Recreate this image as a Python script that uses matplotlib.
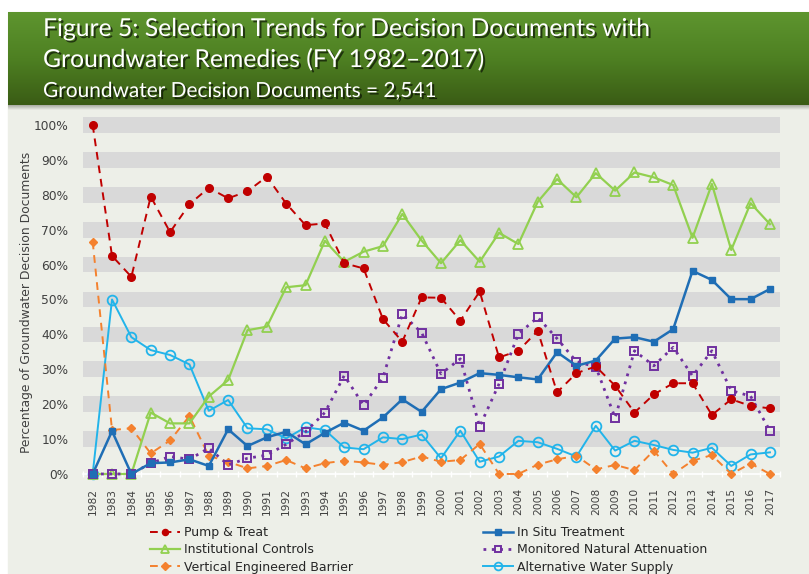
import matplotlib
matplotlib.use('Agg')
import matplotlib.pyplot as plt
import numpy as np
import matplotlib.patheffects as pe
from matplotlib.patches import Rectangle
from matplotlib.colors import LinearSegmentedColormap
from matplotlib.lines import Line2D

years = list(range(1982, 2018))

pump_treat = [100, 62.5, 56.5, 79.5, 69.3, 77.3, 82, 79, 81, 85.2,
              77.5, 71.3, 71.8, 60.4, 58.9, 44.4, 37.9, 50.6, 50.5, 43.9,
              52.3, 33.4, 35.3, 41, 23.4, 28.9, 30.8, 25.3, 17.6, 22.8,
              26, 26, 16.9, 21.4, 19.5, 18.8]
institutional = [0, 0, 0, 17.6, 14.5, 14.5, 22.2, 26.9, 41.2, 42.2,
                 53.5, 54.1, 66.8, 60.8, 63.7, 65.3, 74.5, 66.9, 60.4, 67,
                 60.8, 69.1, 65.9, 78, 84.5, 79.3, 86.2, 81.2, 86.4, 85,
                 82.8, 67.7, 83.1, 64.2, 77.6, 71.6]
vertical_barrier = [66.6, 12.6, 13.1, 5.9, 9.6, 16.6, 5.2, 3.5, 1.6, 2.3,
                    4, 1.6, 3.1, 3.8, 3.3, 2.6, 3.4, 5, 3.5, 4,
                    8.6, 0, 0, 2.7, 4.2, 5.2, 1.3, 2.6, 1.1, 6.7,
                    0, 3.8, 5.4, 0, 3, 0]
in_situ = [0, 12.3, 0, 3.1, 3.3, 4.2, 2.3, 12.8, 8, 10.5,
           12.1, 8.5, 11.8, 14.7, 12.4, 16.2, 21.4, 17.8, 24.3, 26.2,
           28.9, 28.4, 27.7, 27.1, 34.9, 31, 32.5, 38.8, 39.2, 37.9,
           41.5, 58.2, 55.6, 50.1, 50.1, 53]
mna = [0, 0, 0, 3.1, 5, 4.2, 7.4, 2.6, 4.5, 5.4,
       8.5, 12.1, 17.6, 28.2, 19.7, 27.6, 45.8, 40.5, 28.7, 33,
       13.6, 25.8, 40.1, 44.9, 38.8, 32.2, 30.7, 16.1, 35.3, 31,
       36.3, 28.1, 35.3, 23.9, 22.3, 12.4]
alt_water = [0, 50, 39.2, 35.5, 34.1, 31.4, 18.1, 21.2, 13.1, 12.8,
             10.2, 13.4, 12.6, 7.6, 7.1, 10.5, 10, 11.3, 4.5, 12.4,
             3.5, 5, 9.5, 9.1, 7.2, 5, 13.8, 6.7, 9.5, 8.3,
             6.9, 6.1, 7.5, 2.3, 5.6, 6.2]

series_names = ["Pump & Treat", "Institutional Controls", "Vertical Engineered Barrier",
                "In Situ Treatment", "Monitored Natural Attenuation", "Alternative Water Supply"]
y_ticks = list(range(0, 101, 10))
title_lines = ["Figure 5: Selection Trends for Decision Documents with",
               "Groundwater Remedies (FY 1982\u20132017)"]
subtitle = "Groundwater Decision Documents = 2,541"
y_label = "Percentage of Groundwater Decision Documents"

W, H = 809, 574
BG = '#EDEFE8'
fig = plt.figure(figsize=(W / 100, H / 100), dpi=100)
fig.patch.set_facecolor('white')
fig.patches.append(Rectangle((8 / W, 0), 1 - 8 / W, (H - 12) / H,
                             transform=fig.transFigure, color=BG, zorder=-10))

# header
hax = fig.add_axes([8 / W, 1 - 105 / H, 1 - 8 / W, 93 / H])
cmap = LinearSegmentedColormap.from_list('g', ['#5E952F', '#4E8022', '#3A5C15'])
grad = np.linspace(0, 1, 200).reshape(-1, 1)
hax.imshow(grad, aspect='auto', cmap=cmap, extent=(0, 1, 0, 1))
hax.set_axis_off()
sax = fig.add_axes([8 / W, 1 - 110 / H, 1 - 8 / W, 5 / H])
cmap2 = LinearSegmentedColormap.from_list('s', ['#9A9E94', BG])
sax.imshow(grad, aspect='auto', cmap=cmap2, extent=(0, 1, 0, 1))
sax.set_axis_off()

shadow = [pe.withSimplePatchShadow(offset=(1.5, -1.5), shadow_rgbFace='black', alpha=0.6)]
fig.text(43 / W, 1 - 36 / H, title_lines[0], family='Lato', fontsize=17.8, color='white',
         va='baseline', ha='left', path_effects=shadow)
fig.text(43 / W, 1 - 67 / H, title_lines[1], family='Lato', fontsize=17.8, color='white',
         va='baseline', ha='left', path_effects=shadow)
fig.text(43 / W, 1 - 97 / H, subtitle, family='Lato', fontsize=15, color='white',
         va='baseline', ha='left', path_effects=shadow)

# main axes
ax = fig.add_axes([83 / W, 1 - 482 / H, (780 - 83) / W, (482 - 117) / H])
ax.set_facecolor(BG)
ax.set_xlim(1981.53, 2017.52)
ax.set_ylim(-2.3, 102.3)
for v in y_ticks[1:]:
    ax.axhspan(v - 2.25, v + 2.25, color='#D9D9D9', zorder=0, lw=0)

for s in ['top', 'right', 'left']:
    ax.spines[s].set_visible(False)
ax.spines['bottom'].set_position(('data', 0))
ax.spines['bottom'].set_color('white')
ax.spines['bottom'].set_linewidth(1.2)
ax.spines['bottom'].set_zorder(1)

ax.set_xticks(years)
ax.set_xticklabels([str(y) for y in years], rotation=90, fontsize=7.7, color='#404040')
ax.set_xticks([y - 0.5 for y in years] + [years[-1] + 0.5], minor=True)
ax.tick_params(axis='x', which='major', length=0, pad=10)
ax.tick_params(axis='x', which='minor', length=5, color='white', direction='inout', width=1)
ax.set_yticks(y_ticks)
ax.set_yticklabels([f'{v}%' for v in y_ticks], fontsize=8.8, color='#404040')
ax.tick_params(axis='y', length=0, pad=10.5)

fig.text(27 / W, 1 - 302 / H, y_label, rotation=90, fontsize=8.9, color='#404040',
         ha='center', va='center')

styles = {
    "Pump & Treat": dict(color='#C00000', marker='o', ms=5.5, ls=(0, (4, 3)), lw=1.4,
                         mfc='#C00000', mec='#C00000'),
    "Institutional Controls": dict(color='#92D050', marker='^', ms=7, ls='-', lw=1.6,
                                   mfc='none', mec='#92D050', mew=1.3),
    "Vertical Engineered Barrier": dict(color='#F4812E', marker='D', ms=4.5, ls=(0, (4, 3)), lw=1.4,
                                        mfc='#F4812E', mec='#F4812E'),
    "In Situ Treatment": dict(color='#1F6EB5', marker='s', ms=5, ls='-', lw=1.8,
                              mfc='#1F6EB5', mec='#1F6EB5'),
    "Monitored Natural Attenuation": dict(color='#7030A0', marker='s', ms=6, ls=(0, (1, 2)), lw=2,
                                          mfc='none', mec='#7030A0', mew=1.4),
    "Alternative Water Supply": dict(color='#22B4EA', marker='o', ms=7, ls='-', lw=1.4,
                                     mfc='none', mec='#22B4EA', mew=1.3),
}
data = {
    "Pump & Treat": pump_treat,
    "Institutional Controls": institutional,
    "Vertical Engineered Barrier": vertical_barrier,
    "In Situ Treatment": in_situ,
    "Monitored Natural Attenuation": mna,
    "Alternative Water Supply": alt_water,
}
draw_order = ["Alternative Water Supply", "Vertical Engineered Barrier", "Institutional Controls",
              "Monitored Natural Attenuation", "In Situ Treatment", "Pump & Treat"]
for z, name in enumerate(draw_order):
    ax.plot(years, data[name], clip_on=False, zorder=3 + z, **styles[name])

handles = []
for name in series_names:
    st = dict(styles[name])
    st['ms'] = st['ms'] * 0.8
    handles.append(Line2D([], [], **st))

common = dict(loc='upper left', frameon=False, fontsize=9, borderpad=0, borderaxespad=0,
              handlelength=2.4, handletextpad=0.3, labelspacing=0.34, labelcolor='#262626')
fig.legend(handles[:3], series_names[:3], bbox_to_anchor=(150 / W, 1 - 526 / H), **common)
fig.legend(handles[3:], series_names[3:], bbox_to_anchor=(483 / W, 1 - 526 / H), **common)

fig.savefig('out.png', dpi=100, facecolor=fig.get_facecolor())
